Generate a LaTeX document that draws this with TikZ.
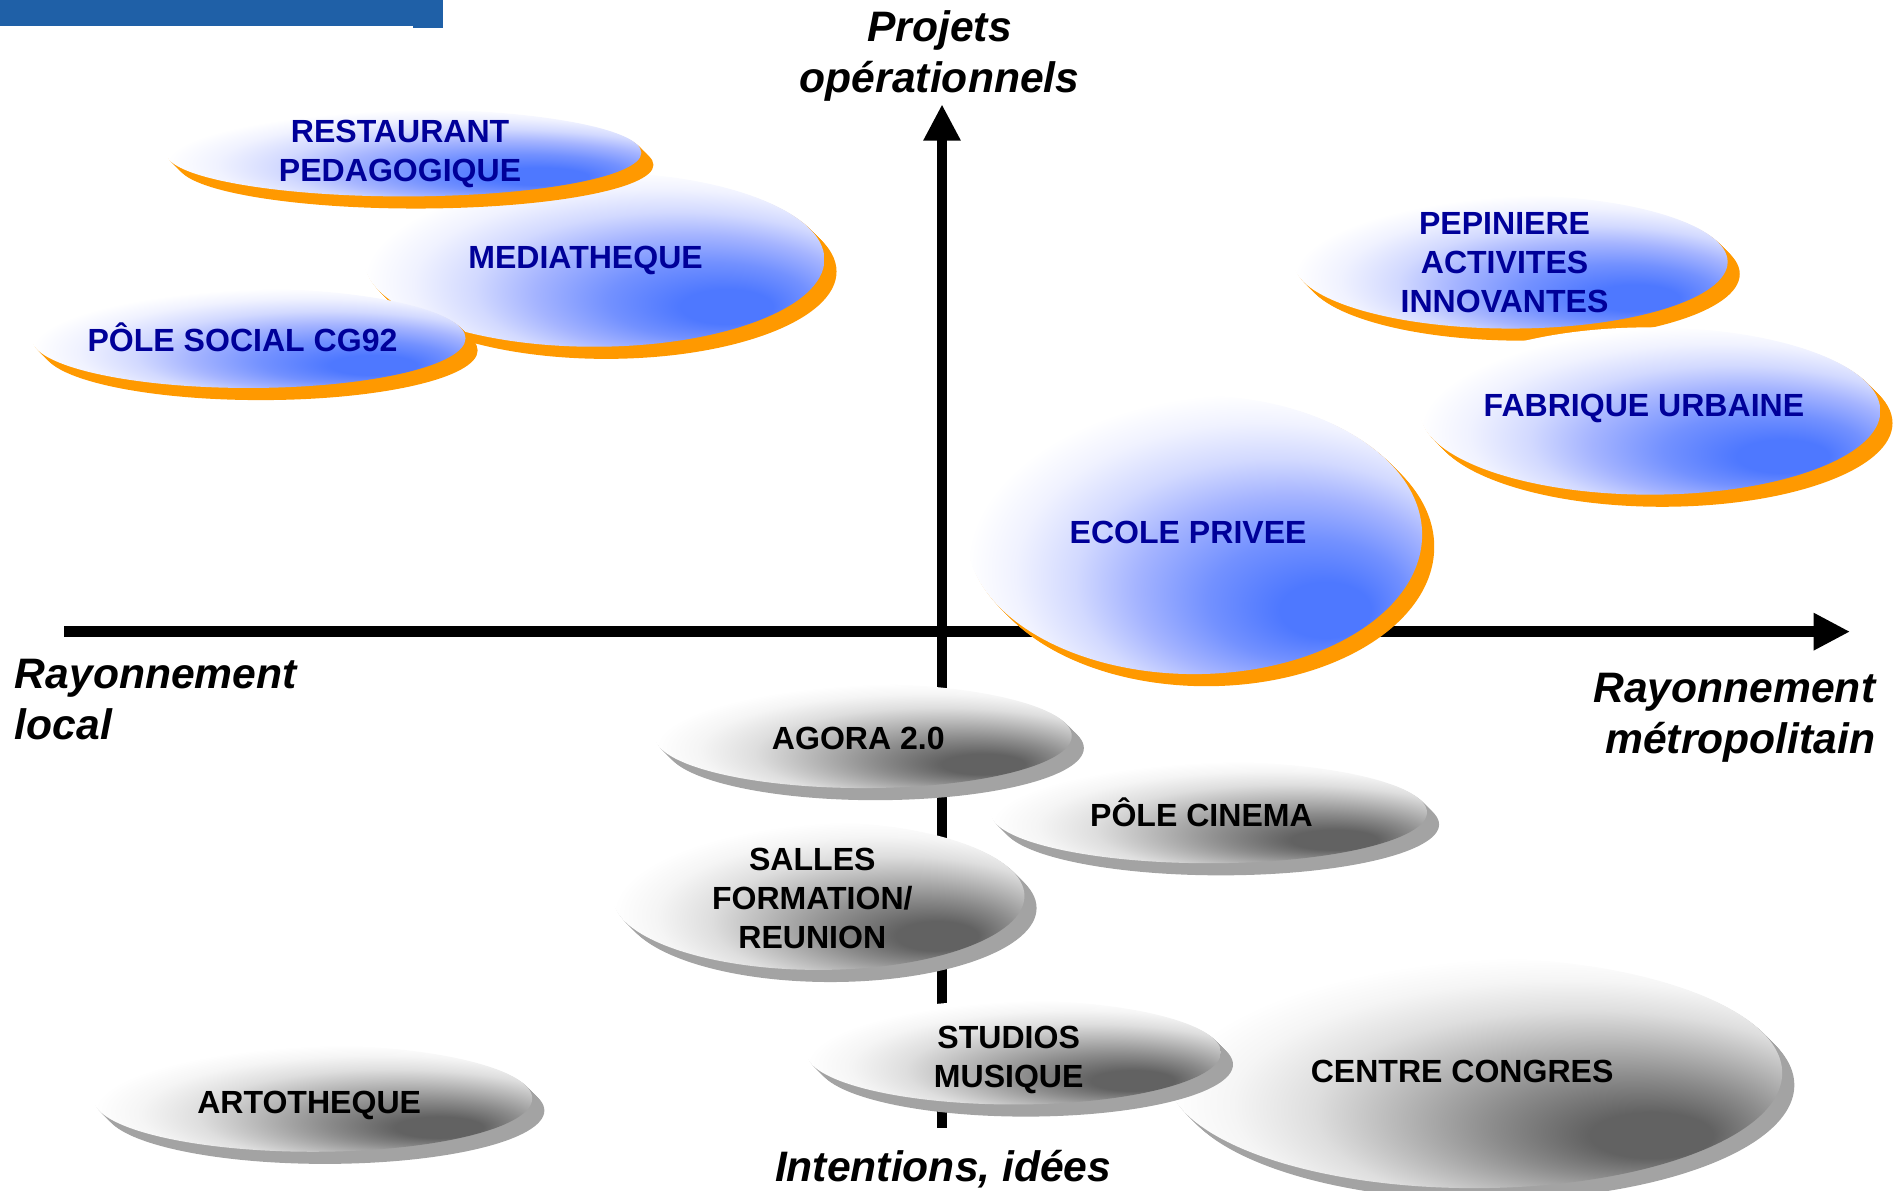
\documentclass[tikz,border=0pt]{standalone}
\usepackage{fontspec}
\setmainfont{Liberation Sans}
\usetikzlibrary{arrows.meta}
\definecolor{barblue}{RGB}{31,96,167}
\definecolor{navytxt}{RGB}{0,0,153}
\definecolor{shadoworange}{RGB}{255,153,0}
\definecolor{shadowgray}{RGB}{163,163,163}
\definecolor{bdark}{RGB}{78,120,255}
\definecolor{bmid}{RGB}{115,145,255}
\definecolor{bmidl}{RGB}{165,180,255}
\definecolor{blight}{RGB}{210,217,255}
\definecolor{bpale}{RGB}{240,242,255}
\definecolor{gdark}{RGB}{98,98,98}
\definecolor{gmid}{RGB}{140,140,140}
\definecolor{gmidl}{RGB}{185,185,185}
\definecolor{glight}{RGB}{222,222,222}
\definecolor{gpale}{RGB}{245,245,245}
\pgfdeclareradialshading{blueoval}{\pgfpoint{16bp}{-15bp}}{color(0bp)=(bdark); color(5bp)=(bdark); color(11bp)=(bmid); color(17bp)=(bmidl); color(22bp)=(blight); color(27bp)=(bpale); color(31bp)=(white); color(50bp)=(white)}
\pgfdeclareradialshading{grayoval}{\pgfpoint{16bp}{-15bp}}{color(0bp)=(gdark); color(5bp)=(gdark); color(11bp)=(gmid); color(17bp)=(gmidl); color(22bp)=(glight); color(27bp)=(gpale); color(31bp)=(white); color(50bp)=(white)}
% #1 shadow colour, #2 shading, #3 cx, #4 cy, #5 rx, #6 ry
\newcommand\drawoval[6]{%
  \foreach \k in {1,...,10}{\fill[#1] ({#3+\k},{#4+\k}) ellipse [x radius=#5, y radius=#6];}
  \shade[shading=#2] (#3,#4) ellipse [x radius=#5, y radius=#6];
}
\tikzset{
  lbl/.style={font=\bfseries\fontsize{18.8}{22.8}\selectfont, align=center, inner sep=0pt},
  bluelbl/.style={lbl, text=navytxt},
  graylbl/.style={lbl, text=black},
  axislbl/.style={font=\bfseries\itshape\fontsize{25}{30}\selectfont, inner sep=0pt},
  axisline/.style={line width=0.22cm, -{Triangle[length=0.75cm,width=0.72cm]}}
}
\begin{document}
\begin{tikzpicture}[x=0.025cm,y=-0.025cm]
\useasboundingbox (0,0) rectangle (1568,982);
\clip (0,0) rectangle (1568,982);
% top bar
\fill[barblue] (0,0) rectangle (341,21.4);
\fill[barblue] (341,0) rectangle (365,22.8);
% axes
\coordinate (hL) at (53,521);
\coordinate (hR) at (1526,521);
\coordinate (vB) at (777,930);
\coordinate (vT) at (777,86);
\draw[axisline] (hL) -- (hR);
\draw[axisline] (vB) -- (vT);
% blue ovals
\drawoval{shadoworange}{blueoval}{490}{214}{190}{72}
\drawoval{shadoworange}{blueoval}{333}{126}{196}{36}
\drawoval{shadoworange}{blueoval}{205}{279}{179}{41}
\drawoval{shadoworange}{blueoval}{1246}{216}{179}{55}
\drawoval{shadoworange}{blueoval}{1361}{339}{190}{69}
\drawoval{shadoworange}{blueoval}{985}{441}{188}{115}
% gray ovals
\drawoval{shadowgray}{grayoval}{1216}{885}{254}{95}
\drawoval{shadowgray}{grayoval}{836}{868}{171}{43}
\drawoval{shadowgray}{grayoval}{997}{670}{180}{42}
\drawoval{shadowgray}{grayoval}{712}{607}{172}{43}
\drawoval{shadowgray}{grayoval}{675}{739}{170}{61}
\drawoval{shadowgray}{grayoval}{258}{906}{181}{44}
% labels
\node[bluelbl] (restaurant) at (330,127) {RESTAURANT\\PEDAGOGIQUE};
\node[bluelbl] (mediatheque) at (483,215) {MEDIATHEQUE};
\node[bluelbl] (polesocial) at (200,278) {PÔLE SOCIAL CG92};
\node[bluelbl] (pepiniere) at (1241,216.5) {PEPINIERE\\ACTIVITES\\INNOVANTES};
\node[bluelbl] (fabrique) at (1356,337) {FABRIQUE URBAINE};
\node[bluelbl] (ecole) at (980,439) {ECOLE PRIVEE};
\node[graylbl] (agora) at (708,609) {AGORA 2.0};
\node[graylbl] (cinema) at (991,670) {PÔLE CINEMA};
\node[graylbl] (salles) at (670,741) {SALLES\\FORMATION/\\REUNION};
\node[graylbl] (studios) at (832,874) {STUDIOS\\MUSIQUE};
\node[graylbl] (centre) at (1206,884) {CENTRE CONGRES};
\node[graylbl] (artotheque) at (255,912) {ARTOTHEQUE};
% axis labels
\node[axislbl, align=center] (projets) at (775,46) {Projets\\opérationnels};
\node[axislbl, align=left, anchor=west] (rlocal) at (12,577) {Rayonnement\\local};
\node[axislbl, align=right, anchor=east] (rmetro) at (1547,592) {Rayonnement\\métropolitain};
\node[axislbl] (intentions) at (778,964) {Intentions, idées};
\end{tikzpicture}
\end{document}
